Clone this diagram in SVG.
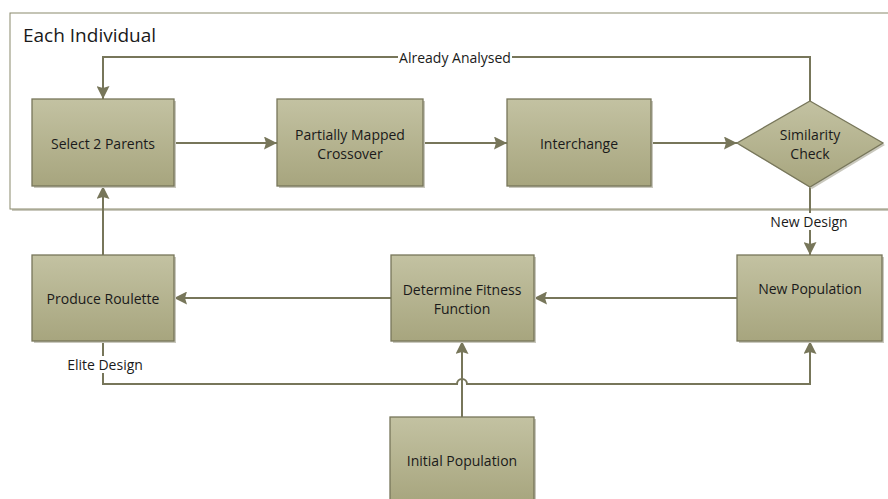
<svg xmlns="http://www.w3.org/2000/svg" width="888" height="499" viewBox="0 0 888 499">
  <style>
    .lbl { font-family: "Open Sans", "Liberation Sans", sans-serif; font-size: 14px; fill: #1a1a1a; text-anchor: middle; dominant-baseline: central; }
    .title { font-family: "Open Sans", "Liberation Sans", sans-serif; font-size: 19px; fill: #1a1a1a; }
    .box { fill: url(#boxFill); stroke: #77765a; stroke-width: 1.3; }
    .shadow { fill: #c9c8bd; }
    .conn { fill: none; stroke: #77765a; stroke-width: 2; }
    .tag { font-family: "Open Sans", "Liberation Sans", sans-serif; font-size: 14px; fill: #1a1a1a; text-anchor: middle; dominant-baseline: central; }
  </style>
  <defs>
    <linearGradient id="boxFill" x1="0" y1="0" x2="0" y2="1">
      <stop offset="0" stop-color="#c3c2a2"/>
      <stop offset="1" stop-color="#a7a57e"/>
    </linearGradient>
    <marker id="arrow" viewBox="0 0 13 13" refX="13" refY="6.5" markerWidth="13" markerHeight="13" markerUnits="userSpaceOnUse" orient="auto">
      <path d="M0,0 L13,6.5 L0,13 L2,6.5 z" fill="#77765a"/>
    </marker>
  </defs>

  <rect width="888" height="499" fill="#ffffff"/>

  <!-- container -->
  <g id="each-individual">
    <rect x="12" y="15" width="900" height="196" fill="#c9c8bd"/>
    <rect x="10" y="13" width="900" height="196" fill="#ffffff" stroke="#8a896c" stroke-width="1"/>
    <text class="title" x="23" y="42">Each Individual</text>
  </g>

  <!-- connectors -->
  <g id="connectors">
    <path class="conn" d="M174,143 H277" marker-end="url(#arrow)"/>
    <path class="conn" d="M423,143 H507" marker-end="url(#arrow)"/>
    <path class="conn" d="M651,143 H737" marker-end="url(#arrow)"/>
    <path class="conn" d="M810,101 V57 H103 V99" marker-end="url(#arrow)"/>
    <path class="conn" d="M810,187 V255" marker-end="url(#arrow)"/>
    <path class="conn" d="M737,298 H534" marker-end="url(#arrow)"/>
    <path class="conn" d="M391,298 H174" marker-end="url(#arrow)"/>
    <path class="conn" d="M103,255 V186" marker-end="url(#arrow)"/>
    <path class="conn" d="M103,341 V384 H457 A5,5 0 0 1 467,384 H810 V341" marker-end="url(#arrow)"/>
    <path class="conn" d="M462,417 V341" marker-end="url(#arrow)"/>
    <!-- connector labels -->
    <rect x="398" y="49" width="114" height="16" fill="#ffffff"/>
    <text class="tag" x="455" y="57">Already Analysed</text>
    <rect x="768" y="213" width="84" height="17" fill="#ffffff"/>
    <text class="tag" x="809" y="221">New Design</text>
    <rect x="64" y="356" width="82" height="17" fill="#ffffff"/>
    <text class="tag" x="105" y="364">Elite Design</text>
  </g>

  <!-- nodes -->
  <g id="select-parents">
    <rect class="shadow" x="34" y="101" width="142" height="87"/>
    <rect class="box" x="32" y="99" width="142" height="87"/>
    <text class="lbl" x="103" y="143">Select 2 Parents</text>
  </g>
  <g id="pmx">
    <rect class="shadow" x="279" y="101" width="146" height="87"/>
    <rect class="box" x="277" y="99" width="146" height="87"/>
    <text class="lbl" x="350" y="134">Partially Mapped</text>
    <text class="lbl" x="350" y="153">Crossover</text>
  </g>
  <g id="interchange">
    <rect class="shadow" x="509" y="101" width="144" height="87"/>
    <rect class="box" x="507" y="99" width="144" height="87"/>
    <text class="lbl" x="579" y="143">Interchange</text>
  </g>
  <g id="similarity-check">
    <polygon class="shadow" points="812,103 885,145 812,189 739,145"/>
    <polygon class="box" points="810,101 883,143 810,187 737,143"/>
    <text class="lbl" x="810" y="134">Similarity</text>
    <text class="lbl" x="810" y="153">Check</text>
  </g>
  <g id="produce-roulette">
    <rect class="shadow" x="34" y="257" width="142" height="86"/>
    <rect class="box" x="32" y="255" width="142" height="86"/>
    <text class="lbl" x="103" y="298">Produce Roulette</text>
  </g>
  <g id="fitness">
    <rect class="shadow" x="393" y="257" width="143" height="86"/>
    <rect class="box" x="391" y="255" width="143" height="86"/>
    <text class="lbl" x="462" y="289">Determine Fitness</text>
    <text class="lbl" x="462" y="308">Function</text>
  </g>
  <g id="new-population">
    <rect class="shadow" x="739" y="257" width="145" height="86"/>
    <rect class="box" x="737" y="255" width="145" height="86"/>
    <text class="lbl" x="810" y="288">New Population</text>
  </g>
  <g id="initial-population">
    <rect class="shadow" x="392" y="419" width="144" height="86"/>
    <rect class="box" x="390" y="417" width="144" height="86"/>
    <text class="lbl" x="462" y="460">Initial Population</text>
  </g>
</svg>
